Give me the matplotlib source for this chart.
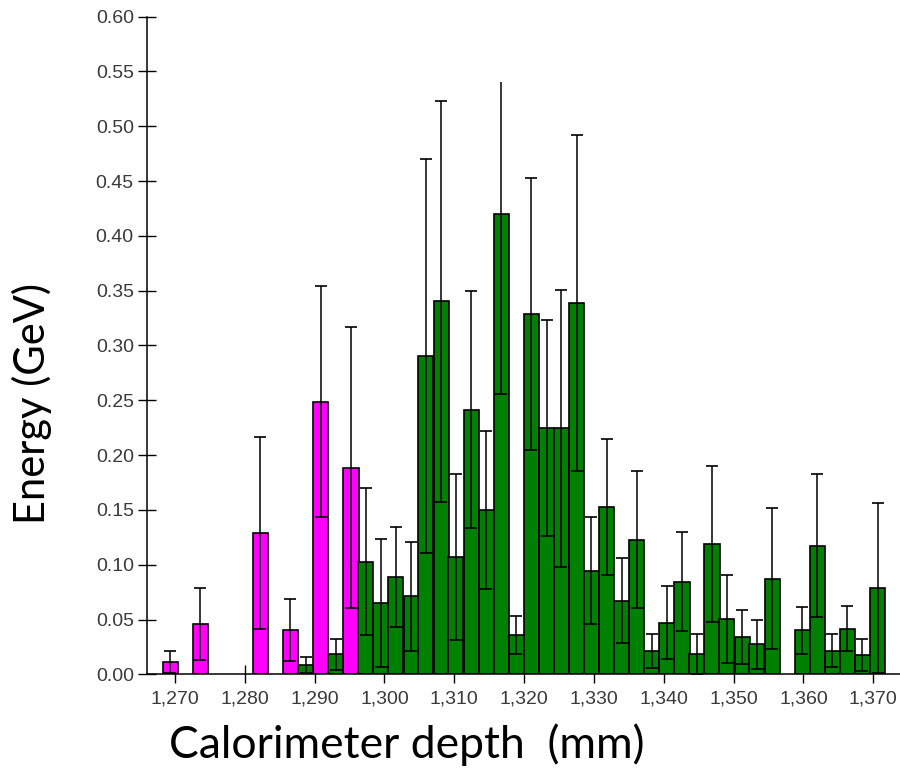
import matplotlib
matplotlib.use("Agg")
import matplotlib.pyplot as plt
from matplotlib.patches import Rectangle
from matplotlib.ticker import FuncFormatter, MultipleLocator

# ---- data ----
magenta_depth = [1269.3, 1273.6, 1282.2, 1286.5, 1290.9, 1295.2]
magenta_energy = [0.0115, 0.0459, 0.1286, 0.0404, 0.2487, 0.1885]
magenta_err = [0.0100, 0.0328, 0.0877, 0.0285, 0.1055, 0.1280]

green_depth = [1288.7, 1293.0, 1297.3, 1299.5, 1301.6, 1303.8, 1305.9, 1308.1,
               1310.2, 1312.4, 1314.6, 1316.7, 1318.9, 1321.0, 1323.2, 1325.3,
               1327.5, 1329.6, 1331.8, 1334.0, 1336.1, 1338.3, 1340.4, 1342.6,
               1344.7, 1346.9, 1349.0, 1351.2, 1353.3, 1355.5, 1359.8, 1362.0,
               1364.1, 1366.3, 1368.4, 1370.6]
green_energy = [0.0085, 0.0182, 0.1028, 0.0653, 0.0885, 0.0711, 0.2904, 0.3403,
                0.1067, 0.2414, 0.1496, 0.4200, 0.0356, 0.3287, 0.2245, 0.2245,
                0.3388, 0.0943, 0.1529, 0.0672, 0.1228, 0.0216, 0.0471, 0.0845,
                0.0185, 0.1189, 0.0505, 0.0343, 0.0274, 0.0873, 0.0401, 0.1174,
                0.0216, 0.0416, 0.0173, 0.0787]
green_err = [0.0073, 0.0140, 0.0668, 0.0585, 0.0455, 0.0495, 0.1800, 0.1830,
             0.0758, 0.1080, 0.0722, 0.1643, 0.0175, 0.1242, 0.0985, 0.1265,
             0.1535, 0.0488, 0.0620, 0.0388, 0.0625, 0.0155, 0.0335, 0.0450,
             0.0185, 0.0713, 0.0400, 0.0245, 0.0224, 0.0645, 0.0215, 0.0655,
             0.0150, 0.0205, 0.0145, 0.0773]

x_ticks = [1270, 1280, 1290, 1300, 1310, 1320, 1330, 1340, 1350, 1360, 1370]

# ---- style ----
BIN_W = 2.155
MAGENTA = "#FF00FF"
GREEN = "#008000"
TICK_FONT = "Liberation Sans"
LABEL_FONT = ["Lato", "DejaVu Sans"]

fig = plt.figure(figsize=(9.0, 7.71), dpi=100)
ax = fig.add_axes([147 / 900, 1 - 674.3 / 771, 753 / 900, (674.3 - 16.7) / 771])

ax.bar(magenta_depth, magenta_energy, width=BIN_W, color=MAGENTA,
       edgecolor="black", linewidth=1.2, zorder=2)
ax.bar(green_depth, green_energy, width=BIN_W, color=GREEN,
       edgecolor="black", linewidth=1.2, zorder=2)

clip = Rectangle((1200, -0.1), 300, 0.64, transform=ax.transData)
for xs, ys, es in [(magenta_depth, magenta_energy, magenta_err),
                   (green_depth, green_energy, green_err)]:
    cont = ax.errorbar(xs, ys, yerr=es, fmt="none", ecolor="black",
                       elinewidth=1.1, capsize=4.3, capthick=1.2, zorder=3)
    for art in list(cont.lines[1]) + list(cont.lines[2]):
        art.set_clip_path(clip)

ax.set_xlim(1265.99, 1373.82)
ax.set_ylim(0, 0.6)
ax.set_xticks(x_ticks)
ax.xaxis.set_major_formatter(FuncFormatter(lambda v, p: f"{int(round(v)):,}"))
ax.yaxis.set_major_locator(MultipleLocator(0.05))
ax.yaxis.set_major_formatter(FuncFormatter(lambda v, p: f"{v:.2f}"))

for s in ("top", "right"):
    ax.spines[s].set_visible(False)
for s in ("left", "bottom"):
    ax.spines[s].set_linewidth(1.1)
    ax.spines[s].set_zorder(4)

ax.tick_params(axis="both", direction="inout", length=13, width=1.0,
               labelsize=14, labelcolor="#3a3a3a")
ax.tick_params(axis="x", pad=5)
ax.tick_params(axis="y", pad=3)
for lab in ax.get_xticklabels() + ax.get_yticklabels():
    lab.set_fontfamily(TICK_FONT)

fig.text(407 / 900, 1 - 745 / 771, "Calorimeter depth  (mm)", ha="center",
         va="center", fontsize=32, family=LABEL_FONT)
fig.text(32 / 900, 1 - 403 / 771, "Energy (GeV)", ha="center", va="center",
         rotation=90, fontsize=30, family=LABEL_FONT)

fig.savefig("out.png", dpi=100)
